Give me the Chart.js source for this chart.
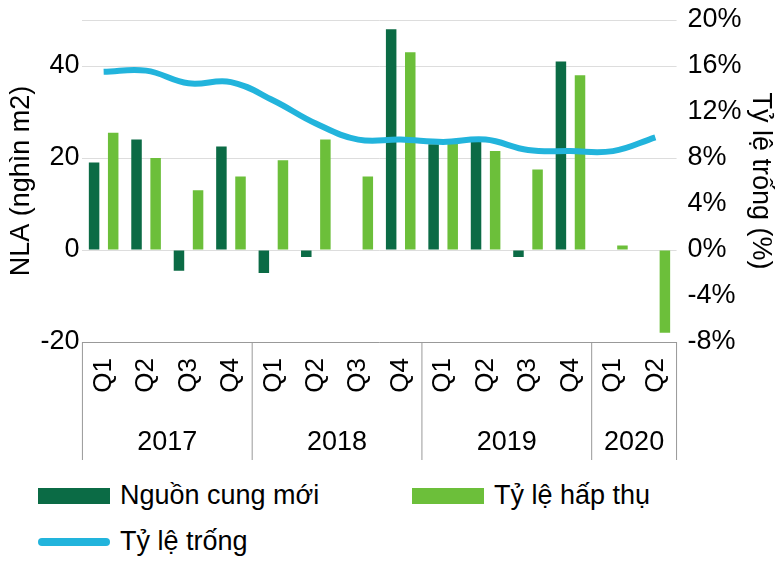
<!DOCTYPE html>
<html><head><meta charset="utf-8">
<script src="https://cdn.jsdelivr.net/npm/chart.js@4"></script>
<style>
body{margin:0;background:#fff;font-family:Arial,"Liberation Sans",sans-serif}
#wrap{width:782px;height:460px;position:relative}
.leg{position:absolute;font-size:27px;color:#000;display:flex;align-items:center}
.sw{display:inline-block;width:72px;height:16px;margin-right:10px}
</style></head><body>
<div id="wrap"><canvas id="c" width="782" height="460"></canvas></div>
<div class="leg" style="left:38px;top:480px"><span class="sw" style="background:#0b6b45"></span>Nguồn cung mới</div>
<div class="leg" style="left:412px;top:480px"><span class="sw" style="background:#6cbf3a"></span>Tỷ lệ hấp thụ</div>
<div class="leg" style="left:38px;top:526px"><span class="sw" style="background:#22b4dc;height:8px;border-radius:4px"></span>Tỷ lệ trống</div>
<script>
const quarters = ['Q1','Q2','Q3','Q4','Q1','Q2','Q3','Q4','Q1','Q2','Q3','Q4','Q1','Q2'];
const years = ['2017','2018','2019','2020'];
const yearSpans = [4,4,4,2];
const newSupply = [19,24,-4.5,22.5,-5,-1.5,0,48,23,24,-1.5,41,0,0];
const absorption = [25.5,20,13,16,19.5,24,16,43,23.5,21.5,17.5,38,1,-18];
const vacancy = [15.5,15.6,14.5,14.6,13,11,9.6,9.6,9.4,9.6,8.7,8.6,8.6,9.8];

const yearPlugin = {
  id:'years',
  afterDraw(chart){
    const ctx=chart.ctx, a=chart.chartArea;
    const step=(a.right-a.left)/quarters.length;
    const top=a.bottom, bot=a.bottom+118;
    ctx.save();
    ctx.strokeStyle='#999';ctx.lineWidth=1;
    let i=0;
    ctx.beginPath();ctx.moveTo(a.left,top);ctx.lineTo(a.left,bot);ctx.stroke();
    ctx.font='27px Arial, "Liberation Sans"';ctx.fillStyle='#000';ctx.textAlign='center';
    yearSpans.forEach((n,k)=>{
      const x0=a.left+i*step, x1=a.left+(i+n)*step;
      ctx.beginPath();ctx.moveTo(x1,top);ctx.lineTo(x1,bot);ctx.stroke();
      ctx.fillText(years[k],(x0+x1)/2,bot-10);
      i+=n;
    });
    ctx.restore();
  }
};

new Chart(document.getElementById('c'),{
  data:{labels:quarters,datasets:[
    {type:'line',data:vacancy,yAxisID:'y1',borderColor:'#22b4dc',borderWidth:6,pointRadius:0,tension:0.4,order:0},
    {type:'bar',data:newSupply,backgroundColor:'#0b6b45',yAxisID:'y',order:1,barPercentage:0.55,categoryPercentage:0.9},
    {type:'bar',data:absorption,backgroundColor:'#6cbf3a',yAxisID:'y',order:1,barPercentage:0.55,categoryPercentage:0.9}
  ]},
  options:{responsive:false,animation:false,
    layout:{padding:{bottom:0,top:20,left:5,right:5}},
    plugins:{legend:{display:false},tooltip:{enabled:false}},
    scales:{
      x:{grid:{display:false},border:{color:'#999'},
        ticks:{minRotation:90,maxRotation:90,font:{size:26,family:'Arial'},color:'#000',padding:8},
        afterFit(s){s.height=118;}},
      y:{min:-20,max:50,ticks:{stepSize:20,font:{size:27,family:'Arial'},color:'#000',
          callback:v=>v===50?'':v},
        grid:{color:'#ddd',drawTicks:false},border:{display:false},
        title:{display:true,text:'NLA (nghìn m2)',font:{size:27,family:'Arial'},color:'#000',padding:0}},
      y1:{position:'right',min:-8,max:20,ticks:{stepSize:4,font:{size:27,family:'Arial'},color:'#000',
          callback:v=>v+'%'},
        grid:{display:false},border:{display:false},
        title:{display:true,text:'Tỷ lệ trống (%)',font:{size:27,family:'Arial'},color:'#000',padding:0}}
    }},
  plugins:[yearPlugin]
});
</script>
</body></html>
